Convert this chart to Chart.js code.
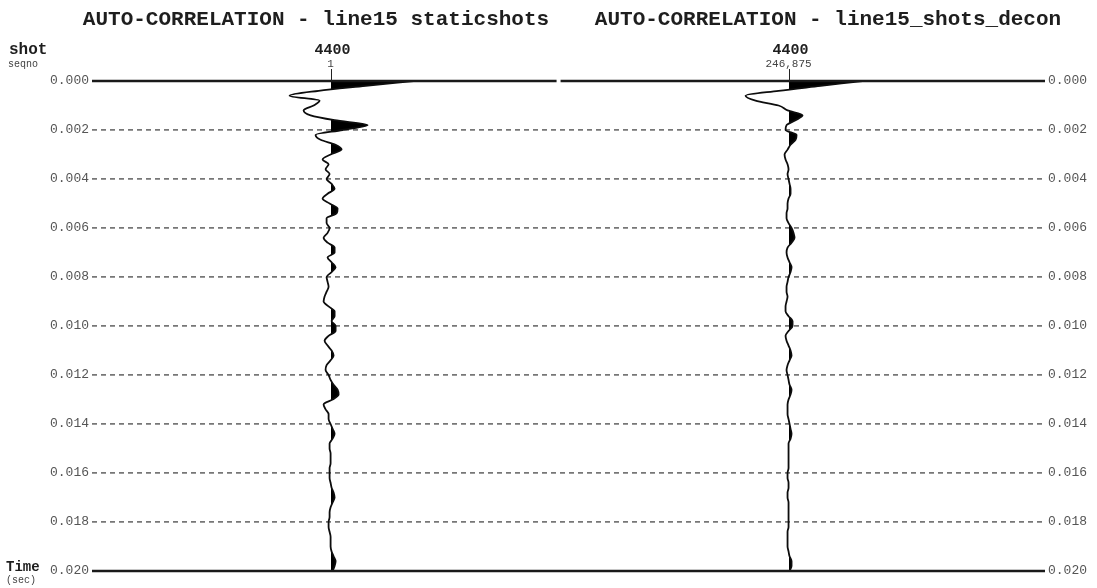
<!DOCTYPE html>
<html>
<head>
<meta charset="utf-8">
<title>Auto-correlation</title>
<script src="https://cdn.jsdelivr.net/npm/chart.js@4.4.1/dist/chart.umd.min.js"></script>
<style>
  html, body { margin: 0; padding: 0; background: #ffffff; }
  canvas { display: block; }
</style>
</head>
<body>
<canvas id="acf" width="1097" height="588"></canvas>
<script>
// Panel headings and trace header annotations
const panelTitles = ['AUTO-CORRELATION - line15 staticshots', 'AUTO-CORRELATION - line15_shots_decon'];
const tracePositions = [1, 2];
const shotLabels = ['4400', '4400'];
const seqnoLabels = ['1', '246,875'];

// Time axis tick values (seconds)
const timeTicks = [0.000, 0.002, 0.004, 0.006, 0.008, 0.010, 0.012, 0.014, 0.016, 0.018, 0.020];

// Lag samples (milliseconds)
const sampleMs = [
  0, 0.2, 0.4, 0.6, 0.8, 1, 1.2, 1.4, 1.6, 1.8,
  2, 2.2, 2.4, 2.6, 2.8, 3, 3.2, 3.4, 3.6, 3.8,
  4, 4.2, 4.4, 4.6, 4.8, 5, 5.2, 5.4, 5.6, 5.8,
  6, 6.2, 6.4, 6.6, 6.8, 7, 7.2, 7.4, 7.6, 7.8,
  8, 8.2, 8.4, 8.6, 8.8, 9, 9.2, 9.4, 9.6, 9.8,
  10, 10.2, 10.4, 10.6, 10.8, 11, 11.2, 11.4, 11.6, 11.8,
  12, 12.2, 12.4, 12.6, 12.8, 13, 13.2, 13.4, 13.6, 13.8,
  14, 14.2, 14.4, 14.6, 14.8, 15, 15.2, 15.4, 15.6, 15.8,
  16, 16.2, 16.4, 16.6, 16.8, 17, 17.2, 17.4, 17.6, 17.8,
  18, 18.2, 18.4, 18.6, 18.8, 19, 19.2, 19.4, 19.6, 19.8,
  20
];

// Auto-correlation amplitudes, line15 staticshots
const staticshotsAmp = [
  83, 35, -12, -41, -11, -17, -27, -20, 4, 37,
  12, -15, -10, 5, 11, 0, -8, -2, -5, -1,
  -4, 1, 4, -3, -8, -1, 7, 6, -4, -4,
  -1, -3, -7, -3, 4, 4, -3, 1, 5, 1,
  -4, -3, -2, -4, -6, -7, -2, 4, 4, 1,
  5, 5, -2, -6, -3, 1, 3, 0, -4, -5,
  -2, 0, 3, 7, 8, 2, -7, -5, -2, -2,
  0, 2, 4, 2, -1, -1, 0, 0, 0, -1,
  -1, -1, 0, 1, 3, 4, 2, 0, -1, -1,
  -2, -2, -1, 0, 0, 0, 1, 3, 5, 4,
  2
];

// Auto-correlation amplitudes, line15_shots_decon
const deconAmp = [
  74, 32, -10, -43, -33, -10, -1, 14, 7, -2,
  -3, 8, 7, 2, -1, -4, -3, -1, 0, -1,
  0, 1, 2, 2, 0, -1, -1, -2, -2, 0,
  3, 5, 6, 3, -1, -2, -1, 1, 3, 2,
  0, -1, -2, -2, -1, -2, -3, -3, 0, 4,
  4, 0, -3, -2, 0, 2, 3, 1, -1, -2,
  -1, 0, 1, 3, 2, 0, -1, -1, -1, 0,
  1, 2, 3, 2, 0, 0, 0, 0, 0, 0,
  -1, -1, 0, 0, -1, -1, 0, 0, 0, 0,
  0, 0, -1, -1, -1, -1, 0, 1, 3, 3,
  1
];

// Display gain: trace-spacing units per amplitude unit
const ampScale = 1 / 458;
const panelBoundary = 1.5;

const monoFont = '"Liberation Mono", "DejaVu Sans Mono", monospace';

// Variable-area fill: only the side of the trace to the right of its baseline is blackened
function positiveFill(chart, pos) {
  const area = chart.chartArea;
  if (!area || !chart.scales.x) return 'rgba(0,0,0,0)';
  const px = chart.scales.x.getPixelForValue(pos);
  const g = chart.ctx.createLinearGradient(area.left, 0, area.right, 0);
  const stop = Math.min(1, Math.max(0, (px - area.left) / (area.right - area.left)));
  g.addColorStop(0, 'rgba(0,0,0,0)');
  g.addColorStop(stop, 'rgba(0,0,0,0)');
  g.addColorStop(stop, '#000000');
  g.addColorStop(1, '#000000');
  return g;
}

function traceDataset(label, pos, amps) {
  return {
    label,
    indexAxis: 'y',
    xAxisID: 'x',
    yAxisID: 'y',
    data: sampleMs.map((ms, i) => ({ x: pos + amps[i] * ampScale, y: ms / 1000 })),
    borderColor: '#0d0d0d',
    borderWidth: 1.8,
    pointRadius: 0,
    pointHoverRadius: 0,
    cubicInterpolationMode: 'monotone',
    fill: { value: pos },
    backgroundColor: (c) => positiveFill(c.chart, pos)
  };
}

function setTimeTicks(scale) {
  scale.ticks = timeTicks.map(v => ({ value: v }));
}

// Frame lines, trace header marks and all annotation text
const seismicFrame = {
  id: 'seismicFrame',
  afterDatasetsDraw(chart) {
    const { ctx, chartArea: a, scales } = chart;
    const xs = scales.x, ys = scales.y;
    const top = ys.getPixelForValue(timeTicks[0]);
    const bot = ys.getPixelForValue(timeTicks[timeTicks.length - 1]);
    const mid = xs.getPixelForValue(panelBoundary);
    ctx.save();
    ctx.strokeStyle = '#1a1a1a';
    ctx.lineWidth = 2.5;
    ctx.beginPath();
    ctx.moveTo(a.left, top); ctx.lineTo(mid - 3, top);
    ctx.moveTo(mid + 1, top); ctx.lineTo(a.right, top);
    ctx.moveTo(a.left, bot); ctx.lineTo(a.right, bot);
    ctx.stroke();

    ctx.lineWidth = 1;
    ctx.strokeStyle = '#222';
    tracePositions.forEach(p => {
      const px = Math.round(xs.getPixelForValue(p)) + 0.5;
      ctx.beginPath();
      ctx.moveTo(px, top - 12);
      ctx.lineTo(px, top);
      ctx.stroke();
    });
    ctx.restore();
  },
  afterDraw(chart) {
    const { ctx, scales } = chart;
    const xs = scales.x;
    ctx.save();
    ctx.textBaseline = 'middle';

    // panel titles
    ctx.fillStyle = '#1e1e1e';
    ctx.font = 'bold 21px ' + monoFont;
    ctx.textAlign = 'center';
    const titleX = [316, 828];
    panelTitles.forEach((t, i) => ctx.fillText(t, titleX[i], 20));

    // header keys
    ctx.textAlign = 'left';
    ctx.font = 'bold 16px ' + monoFont;
    ctx.fillText('shot', 9, 50);
    ctx.font = '10px ' + monoFont;
    ctx.fillStyle = '#444';
    ctx.fillText('seqno', 8, 64);

    // per-trace headers
    ctx.textAlign = 'center';
    tracePositions.forEach((p, i) => {
      const px = xs.getPixelForValue(p);
      ctx.fillStyle = '#1e1e1e';
      ctx.font = 'bold 15px ' + monoFont;
      ctx.fillText(shotLabels[i], px + 2, 50);
      ctx.fillStyle = '#444';
      ctx.font = '11px ' + monoFont;
      ctx.fillText(seqnoLabels[i], px, 64);
    });

    // vertical axis key
    ctx.textAlign = 'left';
    ctx.fillStyle = '#1e1e1e';
    ctx.font = 'bold 14px ' + monoFont;
    ctx.fillText('Time', 6, 567);
    ctx.fillStyle = '#444';
    ctx.font = '10px ' + monoFont;
    ctx.fillText('(sec)', 6, 580);
    ctx.restore();
  }
};

const tickStyle = {
  padding: 3,
  color: '#555555',
  font: { family: monoFont, size: 13 },
  callback: (v) => Number(v).toFixed(3)
};

new Chart(document.getElementById('acf'), {
  type: 'line',
  data: {
    datasets: [
      traceDataset('line15 staticshots', tracePositions[0], staticshotsAmp),
      traceDataset('line15_shots_decon', tracePositions[1], deconAmp)
    ]
  },
  options: {
    indexAxis: 'y',
    responsive: false,
    animation: false,
    events: [],
    layout: { padding: { left: 0, right: 0, top: 81, bottom: 17 } },
    plugins: {
      legend: { display: false },
      title: { display: false },
      tooltip: { enabled: false }
    },
    scales: {
      x: {
        type: 'linear',
        axis: 'x',
        min: 0.479,
        max: 2.56,
        display: false
      },
      y: {
        type: 'linear',
        axis: 'y',
        position: 'left',
        reverse: true,
        min: 0,
        max: 0.02,
        afterBuildTicks: setTimeTicks,
        afterFit: (s) => { s.width = 92; },
        ticks: tickStyle,
        grid: {
          color: (c) => (c.tick && (c.tick.value === timeTicks[0] || c.tick.value === timeTicks[timeTicks.length - 1])) ? 'rgba(0,0,0,0)' : '#777777',
          lineWidth: 1.7,
          drawTicks: false
        },
        border: { display: false, dash: [5, 4] }
      },
      yR: {
        type: 'linear',
        axis: 'y',
        position: 'right',
        reverse: true,
        min: 0,
        max: 0.02,
        afterBuildTicks: setTimeTicks,
        afterFit: (s) => { s.width = 52; },
        ticks: tickStyle,
        grid: { display: false, drawTicks: false },
        border: { display: false }
      }
    }
  },
  plugins: [seismicFrame]
});
</script>
</body>
</html>
